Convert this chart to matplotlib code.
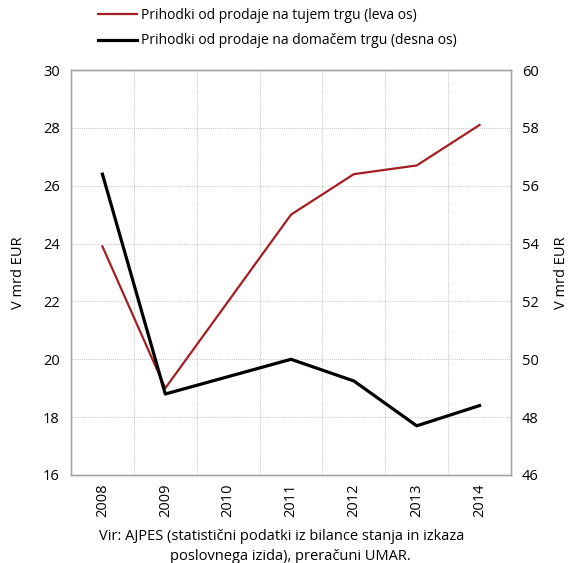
import matplotlib
matplotlib.use("Agg")
import matplotlib.pyplot as plt
from matplotlib.lines import Line2D

years = ["2008", "2009", "2010", "2011", "2012", "2013", "2014"]
foreign = [23.9, 19.0, 22.0, 25.0, 26.4, 26.7, 28.1]
domestic = [56.4, 48.8, 49.4, 50.0, 49.25, 47.7, 48.4]

plt.rcParams['font.family'] = ['Open Sans', 'DejaVu Sans']
fs = 10.5

fig = plt.figure(figsize=(5.68, 5.63), dpi=100)
ax = fig.add_axes([71/568, 88/563, 440/568, 405/563])
ax2 = ax.twinx()

x = list(range(len(years)))
ax.plot(x, foreign, color="#a31f24", lw=1.6)
ax2.plot(x, domestic, color="#000000", lw=2.3)

ax.set_xlim(-0.5, 6.5)
ax.set_ylim(16, 30)
ax2.set_ylim(46, 60)
ax.set_yticks(range(16, 31, 2))
ax2.set_yticks(range(46, 61, 2))
ax.set_xticks(x)
ax.set_xticklabels(years, rotation=90, fontsize=fs)
ax.tick_params(axis='y', length=0, labelsize=fs, pad=8)
ax.tick_params(axis='x', length=0, labelsize=fs, pad=6)
ax2.tick_params(axis='both', length=0, labelsize=fs, pad=8)

# grid
for yv in range(18, 30, 2):
    ax.axhline(yv, color="#b0b0b0", lw=0.6, ls=(0, (1, 1.5)), zorder=0)
for xv in [i + 0.5 for i in range(6)]:
    ax.axvline(xv, color="#b0b0b0", lw=0.6, ls=(0, (1, 1.5)), zorder=0)

for a in (ax, ax2):
    for s in a.spines.values():
        s.set_color("#a6a6a6")
        s.set_linewidth(1.0)

ax.set_ylabel("V mrd EUR", fontsize=fs, labelpad=12)
ax2.set_ylabel("V mrd EUR", fontsize=fs, labelpad=11)

handles = [Line2D([], [], color="#a31f24", lw=1.6),
           Line2D([], [], color="#000000", lw=2.3)]
labels = ["Prihodki od prodaje na tujem trgu (leva os)",
          "Prihodki od prodaje na domačem trgu (desna os)"]
fig.legend(handles, labels, loc="upper left",
           bbox_to_anchor=(98/568, 1 - 8/563),
           frameon=False, fontsize=10, handlelength=2.8, handletextpad=0.3,
           labelspacing=0.75, borderpad=0, borderaxespad=0)

fig.text(282/568, 1 - 537/563, "Vir: AJPES (statistični podatki iz bilance stanja in izkaza",
         ha="center", va="center", fontsize=10.5)
fig.text(290/568, 1 - 556/563, "poslovnega izida), preračuni UMAR.",
         ha="center", va="center", fontsize=10.5)

fig.savefig("out.png", dpi=100)
